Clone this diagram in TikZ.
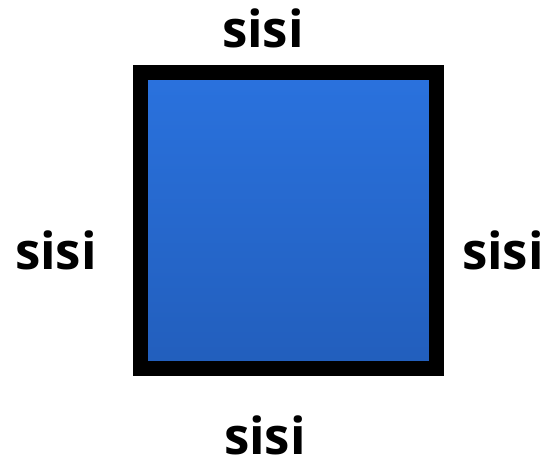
\documentclass[tikz,border=0pt]{standalone}
\usepackage{fontspec}
\setmainfont{Open Sans}
\usepackage{tikz}
\usetikzlibrary{positioning}
\definecolor{sqtop}{RGB}{42,114,222}
\definecolor{sqbot}{RGB}{34,94,188}

\begin{document}
\begin{tikzpicture}[
  x=1pt, y=1pt,
  sq/.style={rectangle, draw=black, line width=15pt, top color=sqtop, bottom color=sqbot,
             minimum width=296pt, minimum height=296pt, inner sep=0pt},
  lbl/.style={anchor=base, inner sep=0pt, font=\fontsize{51}{60}\selectfont\bfseries},
]
\useasboundingbox (0,0) rectangle (549,466);
\node[sq] (box) at (288,245.5) {};
\node[lbl] (top) at (263,418) {sisi};
\node[lbl] (bottom) at (265,12) {sisi};
\node[lbl] (left) at (56,196) {sisi};
\node[lbl] (right) at (503,196) {sisi};
\end{tikzpicture}
\end{document}
